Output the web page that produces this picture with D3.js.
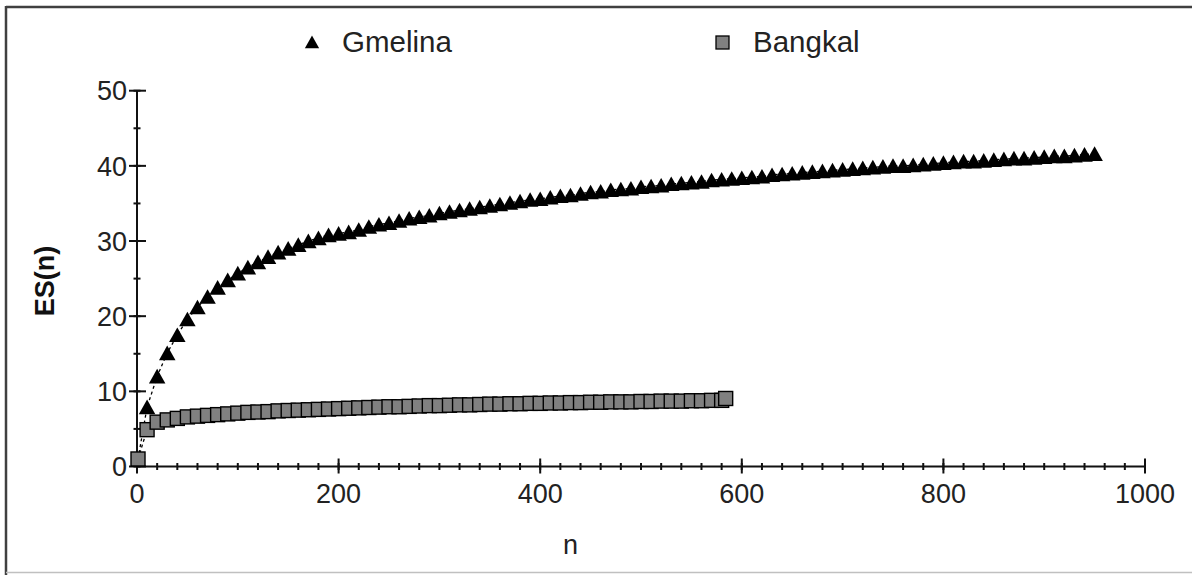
<!DOCTYPE html>
<html><head><meta charset="utf-8">
<script src="https://cdn.jsdelivr.net/npm/d3@7"></script>
<style>body{margin:0;background:#fff}svg{display:block}</style>
</head><body>
<script>
const seriesNames = ["Gmelina", "Bangkal"];
const gmelinaN = [1,10,20,30,40,50,60,70,80,90,100,110,120,130,140,150,160,170,180,190,200,210,220,230,240,250,260,270,280,290,300,310,320,330,340,350,360,370,380,390,400,410,420,430,440,450,460,470,480,490,500,510,520,530,540,550,560,570,580,590,600,610,620,630,640,650,660,670,680,690,700,710,720,730,740,750,760,770,780,790,800,810,820,830,840,850,860,870,880,890,900,910,920,930,940,950];
const gmelinaES = [1,7.9,12.0,15.1,17.5,19.6,21.2,22.6,23.8,24.8,25.7,26.5,27.2,27.9,28.5,29.0,29.5,30.0,30.4,30.8,31.0,31.2,31.5,31.9,32.2,32.4,32.7,33.0,33.2,33.4,33.7,33.9,34.1,34.3,34.5,34.7,34.9,35.1,35.3,35.5,35.6,35.8,36.0,36.1,36.3,36.5,36.6,36.8,36.9,37.0,37.2,37.3,37.4,37.6,37.7,37.8,37.9,38.1,38.2,38.3,38.4,38.5,38.6,38.8,38.9,39.0,39.1,39.2,39.3,39.4,39.5,39.6,39.7,39.8,39.9,40.0,40.0,40.1,40.2,40.3,40.4,40.5,40.6,40.6,40.7,40.8,40.9,41.0,41.0,41.1,41.2,41.3,41.3,41.4,41.5,41.6];
const bangkalN = [1,10,20,30,40,50,60,70,80,90,100,110,120,130,140,150,160,170,180,190,200,210,220,230,240,250,260,270,280,290,300,310,320,330,340,350,360,370,380,390,400,410,420,430,440,450,460,470,480,490,500,510,520,530,540,550,560,570,580,584];
const bangkalES = [1,4.9,5.9,6.2,6.4,6.6,6.7,6.8,6.9,7.0,7.1,7.2,7.25,7.3,7.4,7.45,7.5,7.55,7.6,7.65,7.7,7.75,7.8,7.85,7.9,7.95,7.95,8.0,8.05,8.1,8.1,8.15,8.2,8.2,8.25,8.3,8.3,8.35,8.35,8.4,8.4,8.45,8.45,8.5,8.5,8.55,8.55,8.6,8.6,8.6,8.65,8.65,8.7,8.7,8.7,8.75,8.75,8.8,8.8,9.05];
const xTicks = [0,200,400,600,800,1000];
const xMinor = d3.range(0,1001,20);
const yTicks = [0,10,20,30,40,50];
const yMinor = d3.range(0,51,5);

const W = 1192, H = 575;
const svg = d3.select("body").append("svg").attr("width", W).attr("height", H);
const FONT = "'Liberation Sans', Arial, sans-serif";

// frame
svg.append("line").attr("x1",6).attr("x2",W).attr("y1",7).attr("y2",7).attr("stroke","#404040").attr("stroke-width",2.5);
svg.append("line").attr("x1",6).attr("x2",6).attr("y1",6).attr("y2",H).attr("stroke","#404040").attr("stroke-width",2.5);
svg.append("line").attr("x1",6).attr("x2",W).attr("y1",572.5).attr("y2",572.5).attr("stroke","#c0c0c0").attr("stroke-width",1.5);

const x = d3.scaleLinear().domain([0,1000]).range([137,1145]);
const y = d3.scaleLinear().domain([0,50]).range([466.5,90.7]);
const AX = "#111";

// y axis
const yAx = svg.append("g");
yAx.append("line").attr("x1",x(0)).attr("x2",x(0)).attr("y1",y(50)).attr("y2",y(0)).attr("stroke",AX).attr("stroke-width",2);
yAx.selectAll("line.mn").data(yMinor).join("line").attr("class","mn")
  .attr("x1",x(0)-3.5).attr("x2",x(0)+3.5).attr("y1",d=>y(d)).attr("y2",d=>y(d)).attr("stroke",AX).attr("stroke-width",2);
yAx.selectAll("line.mj").data(yTicks).join("line").attr("class","mj")
  .attr("x1",x(0)-8).attr("x2",x(0)+9).attr("y1",d=>y(d)).attr("y2",d=>y(d)).attr("stroke",AX).attr("stroke-width",2);
yAx.selectAll("text").data(yTicks).join("text")
  .attr("x",127).attr("y",d=>y(d)).attr("dy","0.36em").attr("text-anchor","end")
  .attr("font-family",FONT).attr("font-size",27).attr("fill","#222").text(d=>d);

// x axis
const xAx = svg.append("g");
xAx.append("line").attr("x1",x(0)).attr("x2",x(1000)).attr("y1",y(0)).attr("y2",y(0)).attr("stroke",AX).attr("stroke-width",2);
xAx.selectAll("line.mn").data(xMinor).join("line").attr("class","mn")
  .attr("x1",d=>x(d)).attr("x2",d=>x(d)).attr("y1",y(0)-3.5).attr("y2",y(0)+3.5).attr("stroke",AX).attr("stroke-width",2);
xAx.selectAll("line.mj").data(xTicks).join("line").attr("class","mj")
  .attr("x1",d=>x(d)).attr("x2",d=>x(d)).attr("y1",y(0)-8).attr("y2",y(0)+7).attr("stroke",AX).attr("stroke-width",2);
xAx.selectAll("text").data(xTicks).join("text")
  .attr("x",d=>x(d)).attr("y",503).attr("text-anchor","middle")
  .attr("font-family",FONT).attr("font-size",27).attr("fill","#222").text(d=>d);

// axis titles
svg.append("text").attr("x",x(430)).attr("y",554).attr("text-anchor","middle")
  .attr("font-family",FONT).attr("font-size",27).attr("fill","#222").text("n");
svg.append("text").attr("transform","translate(54,281) rotate(-90)").attr("text-anchor","middle")
  .attr("font-family",FONT).attr("font-size",27).attr("font-weight","bold").attr("fill","#111").text("ES(n)");

// data
const gData = gmelinaN.map((n,i)=>({n, v:gmelinaES[i]}));
const bData = bangkalN.map((n,i)=>({n, v:bangkalES[i]}));
const line = d3.line().x(d=>x(d.n)).y(d=>y(d.v));
svg.append("path").datum(gData).attr("d",line).attr("fill","none").attr("stroke","#000").attr("stroke-width",1.3).attr("stroke-dasharray","3,3");
svg.append("path").datum(bData).attr("d",line).attr("fill","none").attr("stroke","#000").attr("stroke-width",1.3).attr("stroke-dasharray","3,3");

const tri = (cx,cy,s)=>`M${cx},${cy-s}L${cx+s*1.1},${cy+s*0.95}L${cx-s*1.1},${cy+s*0.95}Z`;
svg.append("g").selectAll("path").data(gData.slice(1)).join("path")
  .attr("d",d=>tri(x(d.n),y(d.v),7.5)).attr("fill","#000");
svg.append("g").selectAll("rect").data(bData).join("rect")
  .attr("x",d=>x(d.n)-7).attr("y",d=>y(d.v)-7).attr("width",14).attr("height",14)
  .attr("fill","#808080").attr("stroke","#000").attr("stroke-width",1.4);

// legend
const lg = svg.append("g");
lg.append("path").attr("d",tri(312,42,6.5)).attr("fill","#000");
lg.append("text").attr("x",342).attr("y",52).attr("font-family",FONT).attr("font-size",29.5).attr("fill","#222").text(seriesNames[0]);
lg.append("rect").attr("x",716).attr("y",36).attr("width",13).attr("height",13).attr("fill","#808080").attr("stroke","#000").attr("stroke-width",1.3);
lg.append("text").attr("x",753).attr("y",52).attr("font-family",FONT).attr("font-size",29.5).attr("fill","#222").text(seriesNames[1]);
</script>
</body></html>
